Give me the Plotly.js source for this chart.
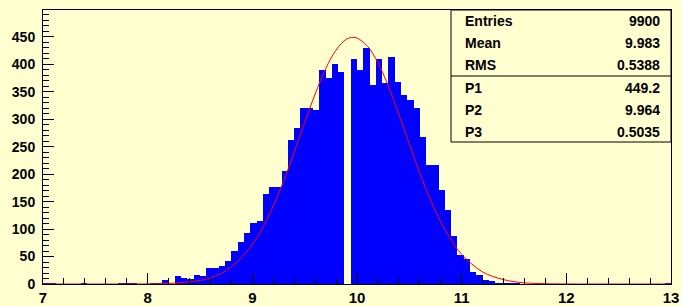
<!DOCTYPE html>
<html>
<head>
<meta charset="utf-8">
<script src="https://cdn.plot.ly/plotly-3.0.1.min.js"></script>
<style>
  html, body { margin: 0; padding: 0; background: #FFFFD0; }
  #chart { width: 681px; height: 306px; }
</style>
</head>
<body>
<div id="chart"></div>
<script>
// Histogram: 100 bins from 7 to 13 (bin width 0.06)
const binLow = 7;
const binHigh = 13;
const binCounts = [
  1, 1, 0, 0, 0, 0, 1, 0, 0, 0,
  0, 0, 2, 2, 1, 0, 0, 2, 2, 7,
  0, 14, 11, 9, 17, 15, 30, 30, 32, 41,
  61, 77, 93, 112, 115, 164, 176, 176, 206, 263,
  285, 321, 321, 317, 389, 375, 400, 386, 0, 410,
  389, 430, 362, 410, 366, 414, 367, 344, 335, 320,
  268, 217, 217, 171, 135, 88, 53, 46, 21, 17,
  8, 5, 2, 2, 1, 1, 0, 0, 0, 0,
  0, 0, 0, 0, 0, 0, 0, 0, 0, 0,
  0, 0, 0, 0, 0, 0, 0, 0, 0, 1
];

// Fitted curve
const curveX = [7.0, 7.4, 7.8, 8.0, 8.2, 8.4, 8.6, 8.8, 9.0, 9.1, 9.2, 9.3, 9.4, 9.5, 9.6, 9.7, 9.8, 9.9, 9.96,
                10.0, 10.1, 10.2, 10.3, 10.4, 10.5, 10.6, 10.7, 10.8, 10.9, 11.0, 11.2, 11.4, 11.6, 11.8, 12.0, 12.5, 13.0];
const curveY = [0, 0, 0, 0.2, 1, 4, 11, 31, 72, 103, 142, 188, 240, 294, 346, 392, 426, 446, 449,
                448, 433, 403, 360, 309, 255, 202, 154, 113, 80, 54, 22, 8, 2, 0.6, 0.1, 0, 0];

// Stats box
const statLabels = ["Entries", "Mean", "RMS", "P1", "P2", "P3"];
const statValues = ["9900", "9.983", "0.5388", "449.2", "9.964", "0.5035"];

const bg = '#FFFFD0';
const binWidth = (binHigh - binLow) / binCounts.length;
const binCenters = binCounts.map((_, i) => binLow + binWidth * (i + 0.5));

const bars = {
  type: 'bar',
  x: binCenters,
  y: binCounts,
  width: binWidth,
  marker: { color: '#0000FF', line: { width: 0 } },
  hoverinfo: 'skip'
};
const fit = {
  type: 'scatter',
  mode: 'lines',
  x: curveX,
  y: curveY,
  line: { color: '#FF0000', width: 1, shape: 'spline', smoothing: 1 },
  hoverinfo: 'skip'
};

const font = { family: '"Liberation Sans", Arial, sans-serif', color: '#000000' };

const M = { l: 43, r: 10, t: 10, b: 22 };
const W = 681, H = 306;
const pw = W - M.l - M.r, ph = H - M.t - M.b;
const px = (x) => (x - M.l) / pw;
const py = (y) => (H - M.b - y) / ph;

const boxL = 451, boxB = 142, divY = 76;
const rowY = [21, 43, 65, 88, 109.5, 132];

const shapes = [
  { type: 'rect', xref: 'paper', yref: 'paper', x0: px(boxL), x1: 1, y0: py(boxB), y1: 1,
    line: { color: '#000', width: 1 }, fillcolor: bg, layer: 'above' },
  { type: 'line', xref: 'paper', yref: 'paper', x0: px(boxL), x1: 1, y0: py(divY), y1: py(divY),
    line: { color: '#000', width: 1 }, layer: 'above' }
];
const annotations = [];
statLabels.forEach((lab, i) => {
  annotations.push({ xref: 'paper', yref: 'paper', x: px(463), y: py(rowY[i]), text: lab,
    showarrow: false, xanchor: 'left', yanchor: 'middle',
    font: Object.assign({}, font, { size: 14, weight: 'bold' }) });
  annotations.push({ xref: 'paper', yref: 'paper', x: px(662), y: py(rowY[i]), text: statValues[i],
    showarrow: false, xanchor: 'right', yanchor: 'middle',
    font: Object.assign({}, font, { size: 14, weight: 'bold' }) });
});

const layout = {
  width: W, height: H,
  margin: M,
  paper_bgcolor: bg,
  plot_bgcolor: bg,
  showlegend: false,
  bargap: 0,
  font: font,
  xaxis: {
    range: [binLow, binHigh],
    tickmode: 'linear', tick0: 7, dtick: 1,
    ticks: 'inside', ticklen: 11, tickwidth: 1, tickcolor: '#000',
    minor: { ticks: 'inside', ticklen: 6, tickwidth: 1, tickcolor: '#000', dtick: 0.2, tick0: 7, showgrid: false },
    showline: true, mirror: true, linecolor: '#000', linewidth: 1,
    showgrid: false, zeroline: false,
    tickfont: Object.assign({}, font, { size: 15, weight: 'bold' }),
    ticklabelstandoff: 0
  },
  yaxis: {
    range: [0, 499],
    tickmode: 'linear', tick0: 0, dtick: 50,
    ticks: 'inside', ticklen: 11, tickwidth: 1, tickcolor: '#000',
    minor: { ticks: 'inside', ticklen: 6, tickwidth: 1, tickcolor: '#000', dtick: 10, tick0: 0, showgrid: false },
    showline: true, mirror: true, linecolor: '#000', linewidth: 1,
    showgrid: false, zeroline: false,
    tickfont: Object.assign({}, font, { size: 14, weight: 'bold' }),
    ticklabelstandoff: 4
  },
  shapes: shapes,
  annotations: annotations
};

Plotly.newPlot('chart', [bars, fit], layout, { displayModeBar: false, staticPlot: true });
</script>
</body>
</html>
